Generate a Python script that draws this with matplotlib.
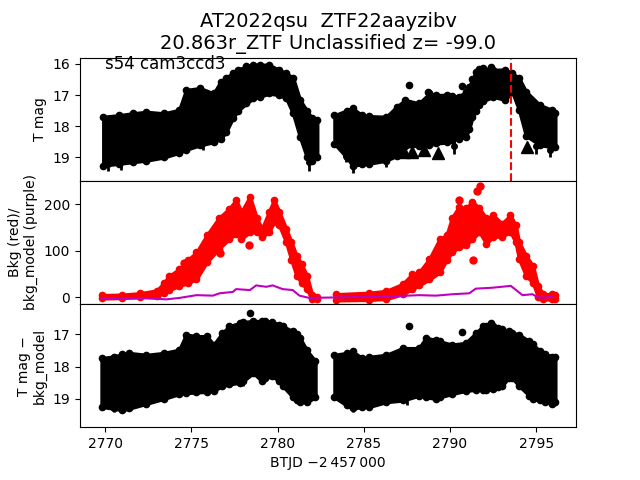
import numpy as np
import matplotlib.pyplot as plt

# ---------------- data ----------------
# T mag band (bright edge / faint edge), two orbits
tmag_t1 = [2769.9, 2770.8, 2771.6, 2772.4, 2773.4, 2774.3, 2774.7, 2775.5, 2776.3, 2776.7, 2777.0, 2777.4,
           2777.7, 2778.2, 2778.6, 2779.0, 2779.5, 2780.1, 2780.5, 2780.9, 2781.3, 2781.7, 2782.0, 2782.3]
tmag_hi1 = [17.70, 17.65, 17.59, 17.54, 17.59, 17.48, 16.84, 16.78, 16.95, 16.57, 16.45, 16.30,
            16.19, 16.08, 16.03, 16.03, 16.03, 16.20, 16.30, 16.45, 17.16, 17.50, 17.75, 17.81]
tmag_lo1 = [19.26, 19.20, 19.15, 19.10, 19.00, 18.85, 18.75, 18.61, 18.51, 18.40, 18.20, 17.75,
            17.50, 17.27, 17.10, 17.05, 16.95, 17.00, 17.10, 17.59, 18.34, 18.99, 19.10, 19.00]
tmag_t2 = [2783.3, 2784.0, 2784.35, 2784.9, 2785.3, 2786.3, 2786.9, 2787.4, 2788.2, 2788.8, 2789.2, 2789.8,
           2790.1, 2790.5, 2790.9, 2791.1, 2791.3, 2791.5, 2791.7, 2791.9, 2792.5, 2793.2, 2793.6, 2794.0,
           2794.4, 2795.2, 2795.9, 2796.1]
tmag_hi2 = [17.65, 17.50, 17.43, 17.65, 17.68, 17.70, 17.38, 17.16, 17.27, 16.95, 17.00, 17.00,
            17.02, 17.05, 16.90, 16.73, 16.50, 16.25, 16.18, 16.14, 16.19, 16.19, 16.30, 16.46,
            16.89, 17.32, 17.48, 17.59]
tmag_lo2 = [18.56, 18.99, 19.26, 19.22, 19.20, 19.10, 18.95, 18.65, 18.62, 18.60, 18.55, 18.52,
            18.45, 18.40, 18.34, 18.10, 17.70, 17.50, 17.32, 17.20, 17.05, 17.16, 16.89, 17.48,
            18.30, 18.60, 18.67, 18.67]
# faint points with long error bars
tail_t = [2770.2, 2770.9, 2775.7, 2781.8, 2783.97, 2784.35, 2786.28, 2790.2, 2795.0, 2795.8]
tail_mag = [19.2, 19.15, 18.55, 19.15, 18.95, 19.2, 19.05, 18.65, 18.65, 18.75]
tail_err = [0.25, 0.25, 0.2, 0.3, 0.2, 0.3, 0.25, 0.25, 0.25, 0.25]
# isolated bright points
out_t = [2787.6, 2788.7, 2790.7, 2792.4]
out_mag = [16.68, 16.89, 16.71, 16.09]
# upper limits
lim_t = [2787.35, 2787.8, 2788.5, 2789.3, 2794.45]
lim_mag = [18.82, 18.82, 18.76, 18.85, 18.66]
flag_t = 2793.52

# background flux band
bkg_t1 = [2769.8, 2771.0, 2772.0, 2773.0, 2773.4, 2773.7, 2774.3, 2774.8, 2775.3, 2775.9, 2776.6, 2777.2,
          2777.6, 2777.9, 2778.4, 2778.8, 2779.1, 2779.5, 2779.8, 2780.1, 2780.5, 2780.8, 2781.1, 2781.4,
          2781.7, 2782.0, 2782.3]
bkg_hi1 = [4, 5, 8, 14, 30, 45, 60, 80, 96, 133, 170, 190, 209, 183, 216, 169, 147, 183, 209, 183, 147,
           118, 89, 70, 46, 5, 0]
bkg_lo1 = [-3, -2, 0, 3, 8, 15, 24, 30, 39, 75, 104, 125, 136, 125, 140, 140, 129, 140, 162, 154, 118,
           80, 46, 30, 17, -5, -4]
bkg_t2 = [2783.4, 2785.3, 2786.3, 2787.25, 2787.8, 2788.2, 2788.8, 2789.4, 2789.8, 2790.1, 2790.5, 2790.9,
          2791.3, 2791.7, 2792.1, 2792.5, 2793.0, 2793.5, 2793.8, 2794.0, 2794.4, 2794.8, 2795.1, 2795.4,
          2795.9, 2796.1]
bkg_hi2 = [6, 9, 13, 28, 49, 53, 82, 125, 133, 169, 194, 191, 205, 191, 169, 176, 158, 176, 154, 118, 89,
           67, 24, 6, 6, 4]
bkg_lo2 = [-7, -6, -4, 6, 17, 25, 38, 53, 80, 96, 107, 111, 125, 140, 115, 130, 130, 140, 118, 82, 46,
           31, 0, -5, -5, -4]
bkg_out_t = [2774.6, 2776.64, 2778.33, 2790.5, 2791.55, 2791.74, 2791.35]
bkg_out = [73, 95, 112, 209, 228, 238, 80]

# bkg_model
mod_t = [2769.8, 2772.4, 2773.55, 2774.3, 2775.3, 2776.25, 2776.64, 2777.41, 2777.6, 2778.4, 2778.76,
         2779.34, 2779.72, 2780.3, 2780.88, 2781.27, 2781.85, 2782.43, 2786.28, 2788.21, 2789.18, 2790.14,
         2791.11, 2791.49, 2792.45, 2793.52, 2794.2, 2794.77, 2795.16, 2795.93]
mod_val = [-3, -3, -5, -2, 4, 3, 8, 11, 17, 15, 25, 22, 25, 17, 15, 3, -2, -1.5, 1, 4, 3, 6,
           8, 18, 20, 24, 4, 6, -1.5, 0]

# T mag - bkg_model band
sub_t1 = [2769.8, 2770.5, 2771.0, 2771.4, 2772.4, 2773.4, 2774.3, 2774.7, 2775.3, 2775.9, 2776.3, 2776.8,
          2777.2, 2777.8, 2778.0, 2778.6, 2779.1, 2779.3, 2779.7, 2780.1, 2780.3, 2780.9, 2781.1, 2781.3,
          2781.7, 2782.2]
sub_hi1 = [17.74, 17.69, 17.62, 17.58, 17.64, 17.58, 17.48, 17.01, 17.06, 17.06, 17.32, 16.96, 16.75,
           16.65, 16.62, 16.59, 16.59, 16.59, 16.62, 16.70, 16.75, 16.91, 17.0, 17.11, 17.5, 17.84]
sub_lo1 = [19.25, 19.3, 19.35, 19.3, 19.15, 19.0, 18.85, 18.82, 18.8, 18.78, 18.75, 18.6, 18.55, 18.5,
           18.45, 18.2, 18.45, 18.35, 18.3, 18.45, 18.6, 18.95, 19.05, 19.1, 19.1, 18.95]
sub_t2 = [2783.3, 2784.0, 2784.35, 2784.9, 2785.3, 2786.3, 2787.25, 2788.2, 2788.6, 2789.2, 2789.4, 2790.1,
          2790.9, 2791.5, 2791.9, 2792.1, 2792.5, 2792.8, 2793.0, 2793.4, 2793.6, 2794.0, 2794.6, 2794.8,
          2795.2, 2795.5, 2795.9, 2796.1]
sub_hi2 = [17.64, 17.58, 17.53, 17.74, 17.70, 17.64, 17.43, 17.43, 17.11, 17.18, 17.22, 17.32, 17.27,
           16.96, 16.75, 16.75, 16.75, 16.80, 16.82, 16.91, 16.95, 17.01, 17.22, 17.30, 17.53, 17.60,
           17.69, 17.69]
sub_lo2 = [18.95, 19.2, 19.3, 19.25, 19.25, 19.1, 19.05, 18.9, 18.95, 19.0, 18.95, 18.85, 18.75, 18.72,
           18.72, 18.72, 18.7, 18.62, 18.6, 18.35, 18.35, 18.6, 18.9, 19.0, 19.05, 19.1, 19.15, 19.1]
sub_tail_t = [2770.1, 2770.5, 2771.0, 2778.0, 2781.1, 2784.0, 2784.35, 2785.3, 2787.5, 2795.5, 2795.9]
sub_tail = [19.3, 19.4, 19.45, 18.6, 19.05, 19.3, 19.4, 19.35, 19.2, 19.15, 19.25]
sub_out_t = [2778.43, 2787.63, 2790.7, 2792.4]
sub_out = [16.35, 16.75, 16.94, 16.65]


def band(ax, t, hi, lo, color):
    ax.fill_between(t, hi, lo, color=color, lw=2.5, edgecolor=color)
    ax.plot(t, hi, 'o', color=color, ms=4.5)
    ax.plot(t, lo, 'o', color=color, ms=4.5)


fig, (ax1, ax2, ax3) = plt.subplots(3, 1, sharex=True, figsize=(6.4, 4.8), dpi=100)
fig.subplots_adjust(hspace=0)

# top: T mag
band(ax1, tmag_t1, tmag_hi1, tmag_lo1, 'k')
band(ax1, tmag_t2, tmag_hi2, tmag_lo2, 'k')
ax1.errorbar(tail_t, tail_mag, yerr=tail_err, fmt='o', color='k', ms=4, lw=2)
ax1.plot(out_t, out_mag, 'o', color='k', ms=4.5)
ax1.plot(lim_t, lim_mag, '^', color='k', ms=8)
ax1.axvline(flag_t, color='r', ls='--', lw=1.5)
ax1.set_ylim(19.75, 15.8)
ax1.set_yticks([16, 17, 18, 19])
ax1.set_ylabel('T mag')
ax1.text(0.05, 0.95, 's54 cam3ccd3', transform=ax1.transAxes, fontsize=12, va='center')
ax1.set_title('AT2022qsu  ZTF22aayzibv\n20.863r_ZTF Unclassified z= -99.0', fontsize=14)

# middle: background
band(ax2, bkg_t1, bkg_hi1, bkg_lo1, 'r')
band(ax2, bkg_t2, bkg_hi2, bkg_lo2, 'r')
ax2.plot(bkg_out_t, bkg_out, 'o', color='r', ms=5)
ax2.plot(mod_t, mod_val, color='m', lw=1.5)
ax2.set_ylim(-15, 250)
ax2.set_yticks([0, 100, 200])
ax2.set_ylabel('Bkg (red)/\nbkg_model (purple)')

# bottom: T mag - bkg_model
band(ax3, sub_t1, sub_hi1, sub_lo1, 'k')
band(ax3, sub_t2, sub_hi2, sub_lo2, 'k')
ax3.vlines(sub_tail_t, np.array(sub_tail) - 0.4, sub_tail, color='k', lw=2)
ax3.plot(sub_out_t, sub_out, 'o', color='k', ms=4.5)
ax3.set_ylim(19.88, 16.06)
ax3.set_yticks([17, 18, 19])
ax3.set_ylabel('T mag \u2212\nbkg_model')
ax3.set_xlim(2768.55, 2797.3)
ax3.set_xticks([2770, 2775, 2780, 2785, 2790, 2795])
ax3.set_xlabel('BTJD \u22122\u2009457\u2009000')

for ax in (ax1, ax2):
    ax.tick_params(axis='x', bottom=False)

fig.savefig('out.png')
